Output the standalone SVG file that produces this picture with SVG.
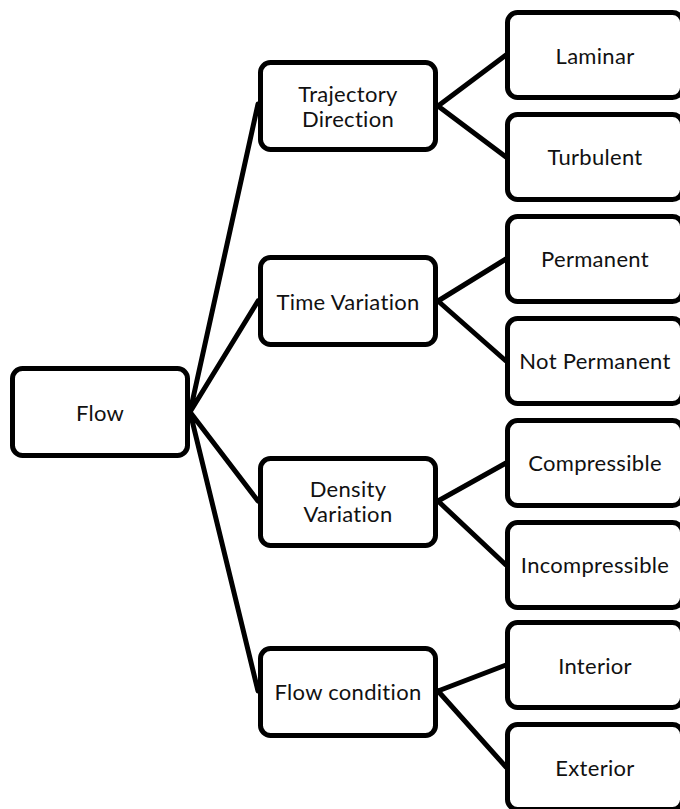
<svg xmlns="http://www.w3.org/2000/svg" width="680" height="809" viewBox="0 0 680 809">
<style>
.box{fill:#fff;stroke:#000;stroke-width:5}
.t{font-family:Lato,"Noto Sans",sans-serif;font-size:22px;letter-spacing:0.3px;fill:#111;text-anchor:middle;dominant-baseline:central}
.c{stroke:#000;stroke-width:5;fill:none;stroke-linecap:round}
</style>
<rect width="680" height="809" fill="#fff"/>
<g id="connectors">
<path class="c" d="M190 412L258 104M190 412L258 301M190 412L258 501M190 412L258 691"/>
<path class="c" d="M438 106L506 55M438 106L506 157"/>
<path class="c" d="M438 301L506 259M438 301L506 361"/>
<path class="c" d="M438 501L506 463M438 501L506 565"/>
<path class="c" d="M438 691L506 665M438 691L506 767"/>
</g>
<g id="flow"><rect class="box" x="12.5" y="368.5" width="175" height="87" rx="10"/><text class="t" x="100" y="412">Flow</text></g>
<g id="trajectory"><rect class="box" x="260.5" y="62.5" width="175" height="87" rx="10"/><text class="t" x="348" y="93.5">Trajectory</text><text class="t" x="348" y="118.5">Direction</text></g>
<g id="time"><rect class="box" x="260.5" y="257.5" width="175" height="87" rx="10"/><text class="t" x="348" y="301">Time Variation</text></g>
<g id="density"><rect class="box" x="260.5" y="458.5" width="175" height="87" rx="10"/><text class="t" x="348" y="488">Density</text><text class="t" x="348" y="513">Variation</text></g>
<g id="condition"><rect class="box" x="260.5" y="648.5" width="175" height="87" rx="10"/><text class="t" x="348" y="691">Flow condition</text></g>
<g id="laminar"><rect class="box" x="507.5" y="12.5" width="175" height="85" rx="10"/><text class="t" x="595" y="55">Laminar</text></g>
<g id="turbulent"><rect class="box" x="507.5" y="114.5" width="175" height="85" rx="10"/><text class="t" x="595" y="156">Turbulent</text></g>
<g id="permanent"><rect class="box" x="507.5" y="216.5" width="175" height="85" rx="10"/><text class="t" x="595" y="258">Permanent</text></g>
<g id="notpermanent"><rect class="box" x="507.5" y="318.5" width="175" height="85" rx="10"/><text class="t" x="595" y="360">Not Permanent</text></g>
<g id="compressible"><rect class="box" x="507.5" y="420.5" width="175" height="85" rx="10"/><text class="t" x="595" y="462">Compressible</text></g>
<g id="incompressible"><rect class="box" x="507.5" y="522.5" width="175" height="85" rx="10"/><text class="t" x="595" y="564">Incompressible</text></g>
<g id="interior"><rect class="box" x="507.5" y="622.5" width="175" height="85" rx="10"/><text class="t" x="595" y="665">Interior</text></g>
<g id="exterior"><rect class="box" x="507.5" y="724.5" width="175" height="85" rx="10"/><text class="t" x="595" y="767">Exterior</text></g>
</svg>
